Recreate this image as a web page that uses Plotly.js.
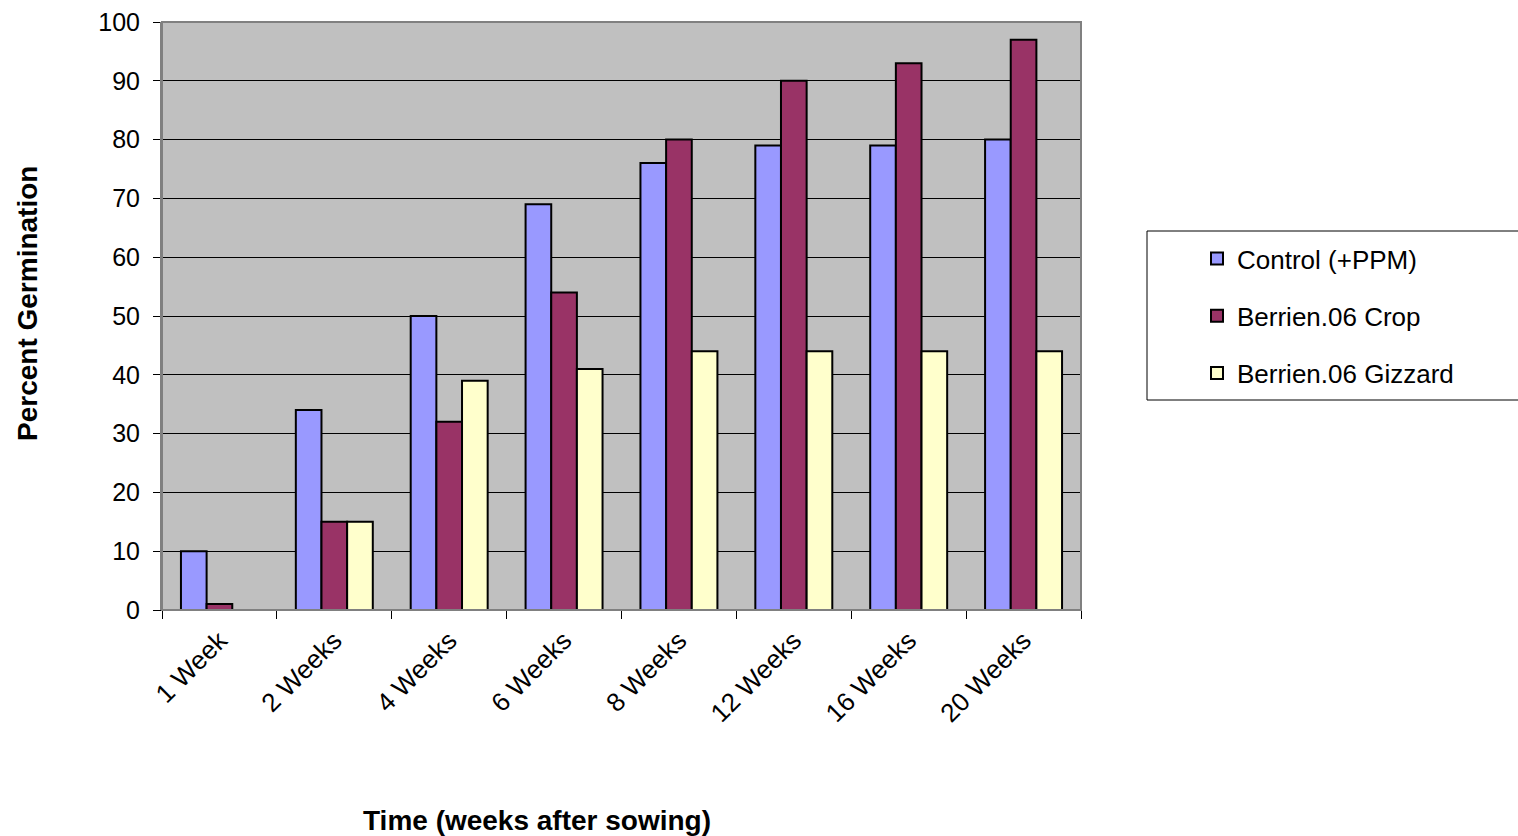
<!DOCTYPE html>
<html><head><meta charset="utf-8">
<script src="https://cdn.plot.ly/plotly-3.0.1.min.js"></script>
<style>html,body{margin:0;padding:0;background:#fff;}#chart{width:1518px;height:836px;}</style>
</head><body><div id="chart"></div>
<script>
const categories = ["1 Week","2 Weeks","4 Weeks","6 Weeks","8 Weeks","12 Weeks","16 Weeks","20 Weeks"];
const controlPPM = [10,34,50,69,76,79,79,80];
const berrienCrop = [1,15,32,54,80,90,93,97];
const berrienGizzard = [0,15,39,41,44,44,44,44];
const yTicks = [0,10,20,30,40,50,60,70,80,90,100];

const W=1518,H=836,L=162,R=1081,T=22,B=610;
const pw=R-L, ph=B-T;
const px = p => (p-L)/pw;
const py = q => (B-q)/ph;
const font = "Liberation Sans, Arial, sans-serif";

function tr(name, y, color, g){
  return {type:'bar', name:name, x:categories, y:y, legendgroup:g,
    marker:{color:color, line:{color:'#000', width:2}}};
}
const data = [
  tr("Control (+PPM)", controlPPM, "#9999FF", "a"),
  tr("Berrien.06 Crop", berrienCrop, "#993366", "b"),
  tr("Berrien.06 Gizzard", berrienGizzard, "#FFFFCC", "c")
];
const layout = {
  width:W, height:H,
  margin:{l:L, r:W-R, t:T, b:H-B, pad:0},
  paper_bgcolor:'#fff', plot_bgcolor:'#C0C0C0',
  font:{family:font, size:25, color:'#000'},
  barmode:'group', bargap:0.33, bargroupgap:0,
  showlegend:true,
  legend:{x:px(1197), y:py(235), xanchor:'left', yanchor:'top',
    bgcolor:'rgba(0,0,0,0)', borderwidth:0, tracegroupgap:20.5,
    font:{family:font, size:26, color:'#000'}, traceorder:'grouped'},
  xaxis:{type:'category', tickangle:-45, ticks:'outside', tickson:'boundaries',
    ticklen:8, tickcolor:'#000', showgrid:false, showline:true, linecolor:'#000', linewidth:1,
    ticklabelstandoff:4,
    tickfont:{family:font, size:26}, fixedrange:true},
  yaxis:{range:[0,100], tickvals:yTicks, ticktext:yTicks.map(String), ticks:'outside', ticklen:7,
    ticklabelstandoff:8,
    tickcolor:'#000', showgrid:true, gridcolor:'#000', gridwidth:1, zeroline:false,
    showline:true, linecolor:'#808080', linewidth:2, tickfont:{family:font, size:25}, fixedrange:true},
  shapes:[
    {type:'rect', xref:'paper', yref:'paper', x0:0, x1:1, y0:0, y1:1, line:{color:'#808080', width:2}, fillcolor:'rgba(0,0,0,0)'},
    {type:'rect', xref:'paper', yref:'paper', x0:px(1147), x1:px(1522), y0:py(400), y1:py(231), line:{color:'#000', width:1}, fillcolor:'rgba(0,0,0,0)'}
  ],
  annotations:[
    {text:"<b>Time (weeks after sowing)</b>", xref:'paper', yref:'paper', x:px(537), y:py(820), xanchor:'center', yanchor:'middle', showarrow:false, font:{family:font, size:28}},
    {text:"<b>Percent Germination</b>", xref:'paper', yref:'paper', x:px(27), y:py(304), xanchor:'center', yanchor:'middle', textangle:-90, showarrow:false, font:{family:font, size:28}}
  ]
};
Plotly.newPlot('chart', data, layout, {displayModeBar:false, staticPlot:true});
</script></body></html>
